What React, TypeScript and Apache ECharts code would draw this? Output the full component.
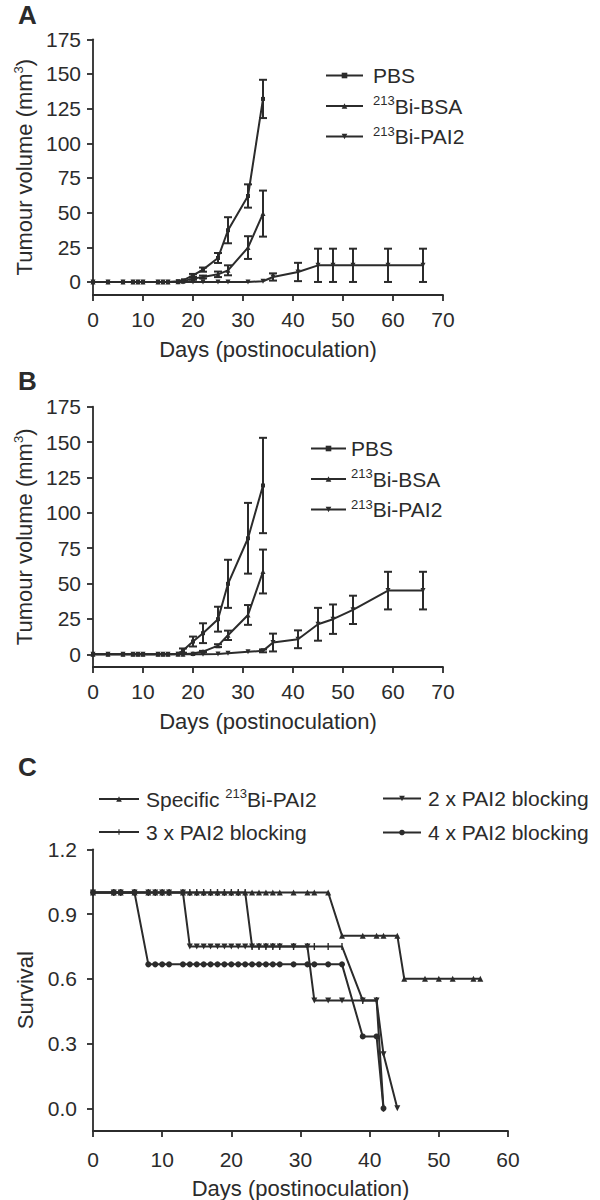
import React, { useEffect, useRef } from 'react';
import * as echarts from 'echarts';

// ---------- Panel A ----------
const daysA = [0, 3, 6, 8, 9, 10, 13, 14, 15, 17, 18, 20, 22, 25, 27, 31, 34];
const pbsA = [0, 0, 0, 0, 0, 0, 0, 0, 0, 0.5, 1.2, 4.8, 8.9, 17.3, 37.3, 62, 132];
const pbsAErr = [0, 0, 0, 0, 0, 0, 0, 0, 0, 0, 0, 1, 1.5, 3.6, 9.4, 8.4, 13.8];
const bsaA = [0, 0, 0, 0, 0, 0, 0, 0, 0, 0.2, 0.5, 2.4, 3.6, 5.5, 8.4, 24.8, 49.3];
const bsaAErr = [0, 0, 0, 0, 0, 0, 0, 0, 0, 0, 0, 0.8, 1, 2, 3.6, 8.2, 16.6];
const daysPai = [0, 3, 6, 8, 9, 10, 13, 14, 15, 17, 18, 20, 22, 25, 27, 31, 34, 36, 41, 45, 48, 52, 59, 66];
const paiA = [0, 0, 0, 0, 0, 0, 0, 0, 0, 0, 0, 0, 0, 0, 0, 0, 0.5, 3.6, 7.2, 12, 12, 12, 12, 12];
const paiAErr = [0, 0, 0, 0, 0, 0, 0, 0, 0, 0, 0, 0, 0, 0, 0, 0, 0, 2.6, 6.6, 12, 12, 12, 12, 12];

// ---------- Panel B ----------
const pbsB = [0, 0, 0, 0, 0, 0, 0, 0, 0, 0.3, 2.6, 9, 14.9, 24.8, 49.8, 82, 119.3];
const pbsBErr = [0, 0, 0, 0, 0, 0, 0, 0, 0, 0, 1.5, 3.5, 7, 8.8, 17, 25, 33.7];
const bsaB = [0, 0, 0, 0, 0, 0, 0, 0, 0, 0, 0, 0.5, 1.9, 6.1, 13.4, 27.8, 58.5];
const bsaBErr = [0, 0, 0, 0, 0, 0, 0, 0, 0, 0, 0, 0, 0.5, 1, 3.3, 7, 15.5];
const paiB = [0, 0, 0, 0, 0, 0, 0, 0, 0, 0, 0, 0, 0, 0.2, 0.7, 1.7, 2.4, 8.3, 10.6, 21.2, 24.8, 31.4, 45, 45];
const paiBErr = [0, 0, 0, 0, 0, 0, 0, 0, 0, 0, 0, 0, 0, 0, 0, 0, 1, 6.3, 6.3, 11.6, 10.4, 10, 13.3, 13.3];

const tumourTicks = [0, 25, 50, 75, 100, 125, 150, 175];

// ---------- Panel C ----------
const specDays = [0, 3, 4, 6, 8, 9, 10, 11, 13, 14, 15, 16, 17, 18, 19, 20, 21, 22, 23, 24, 25, 26, 27, 29, 31, 32, 34, 36, 39, 41, 42, 44, 45, 48, 50, 52, 55, 56];
const specSurv = [1, 1, 1, 1, 1, 1, 1, 1, 1, 1, 1, 1, 1, 1, 1, 1, 1, 1, 1, 1, 1, 1, 1, 1, 1, 1, 1, 0.8, 0.8, 0.8, 0.8, 0.8, 0.6, 0.6, 0.6, 0.6, 0.6, 0.6];
const twoDays = [0, 3, 4, 6, 8, 9, 10, 11, 13, 14, 15, 16, 17, 18, 19, 20, 21, 22, 23, 24, 25, 26, 27, 29, 31, 32, 34, 36, 39, 41, 42, 44];
const twoSurv = [1, 1, 1, 1, 1, 1, 1, 1, 1, 0.75, 0.75, 0.75, 0.75, 0.75, 0.75, 0.75, 0.75, 0.75, 0.75, 0.75, 0.75, 0.75, 0.75, 0.75, 0.75, 0.5, 0.5, 0.5, 0.5, 0.5, 0.25, 0];
const threeDays = [0, 3, 4, 6, 8, 9, 10, 11, 13, 14, 15, 16, 17, 18, 19, 20, 21, 22, 23, 24, 25, 26, 27, 29, 31, 32, 34, 36, 39, 41, 42];
const threeSurv = [1, 1, 1, 1, 1, 1, 1, 1, 1, 1, 1, 1, 1, 1, 1, 1, 1, 1, 0.75, 0.75, 0.75, 0.75, 0.75, 0.75, 0.75, 0.75, 0.75, 0.75, 0.5, 0.5, 0];
const fourDays = [0, 3, 4, 6, 8, 9, 10, 11, 13, 14, 15, 16, 17, 18, 19, 20, 21, 22, 23, 24, 25, 26, 27, 29, 31, 32, 34, 36, 39, 41, 42];
const fourSurv = [1, 1, 1, 1, 0.667, 0.667, 0.667, 0.667, 0.667, 0.667, 0.667, 0.667, 0.667, 0.667, 0.667, 0.667, 0.667, 0.667, 0.667, 0.667, 0.667, 0.667, 0.667, 0.667, 0.667, 0.667, 0.667, 0.667, 0.333, 0.333, 0];
const survivalTicks = [0, 0.3, 0.6, 0.9, 1.2];

const INK = '#2b2b2b';
const FONT = 'Liberation Sans, Arial, Helvetica, sans-serif';
// thin vertical tick inside a square bounding box (keeps its shape in the legend too)
const TICK_SYMBOL = 'path://M4,0h2v10h-2zM0,4.99h0.01v0.02h-0.01zM9.99,4.99h0.01v0.02h-0.01z';

const rich = {
  n: { fontSize: 21, fontFamily: FONT, color: INK },
  s: { fontSize: 13, fontFamily: FONT, color: INK, padding: [0, 0, 11, 0] },
};

const legendLabels: Record<string, string> = {
  'A-PBS': '{n|PBS}',
  'A-BSA': '{s|213}{n|Bi-BSA}',
  'A-PAI2': '{s|213}{n|Bi-PAI2}',
  'B-PBS': '{n|PBS}',
  'B-BSA': '{s|213}{n|Bi-BSA}',
  'B-PAI2': '{s|213}{n|Bi-PAI2}',
  'C-spec': '{n|Specific }{s|213}{n|Bi-PAI2}',
  'C-2x': '{n|2 x PAI2 blocking}',
  'C-3x': '{n|3 x PAI2 blocking}',
  'C-4x': '{n|4 x PAI2 blocking}',
};

function pairs(xs: number[], ys: number[]) {
  return xs.map((x, i) => [x, ys[i]]);
}

function lineSeries(name: string, idx: number, xs: number[], ys: number[], symbol: string, size: any, rotate = 0) {
  return {
    name,
    type: 'line',
    xAxisIndex: idx,
    yAxisIndex: idx,
    data: pairs(xs, ys),
    symbol,
    symbolSize: size,
    symbolRotate: rotate,
    showSymbol: true,
    lineStyle: { color: INK, width: 2 },
    itemStyle: { color: INK, borderWidth: 0 },
    color: INK,
    z: 4,
  };
}

function errSeries(idx: number, xs: number[], ys: number[], errs: number[]) {
  const data: number[][] = [];
  xs.forEach((x, i) => {
    if (errs[i] > 0) data.push([x, ys[i] - errs[i], ys[i] + errs[i]]);
  });
  return {
    type: 'custom',
    xAxisIndex: idx,
    yAxisIndex: idx,
    silent: true,
    encode: { x: 0, y: [1, 2] },
    data,
    z: 3,
    renderItem: (params: any, api: any) => {
      const x = api.value(0);
      const lo = api.coord([x, api.value(1)]);
      const hi = api.coord([x, api.value(2)]);
      const w = 4;
      const style = { stroke: INK, lineWidth: 2 };
      return {
        type: 'group',
        children: [
          { type: 'line', shape: { x1: lo[0], y1: lo[1], x2: hi[0], y2: hi[1] }, style },
          { type: 'line', shape: { x1: lo[0] - w, y1: lo[1], x2: lo[0] + w, y2: lo[1] }, style },
          { type: 'line', shape: { x1: hi[0] - w, y1: hi[1], x2: hi[0] + w, y2: hi[1] }, style },
        ],
      };
    },
  };
}

const axisLineStyle = { show: true, onZero: false, lineStyle: { color: INK, width: 1.8 } };
const tickStyle = { show: true, length: 6, lineStyle: { color: INK, width: 1.8 } };

function xAxisDef(idx: number, max: number, labelMargin: number, nameGap: number) {
  return {
    type: 'value',
    gridIndex: idx,
    min: 0,
    max,
    interval: 10,
    axisLine: axisLineStyle,
    axisTick: tickStyle,
    splitLine: { show: false },
    axisLabel: { color: INK, fontSize: 21, fontFamily: FONT, margin: labelMargin },
    name: 'Days (postinoculation)',
    nameLocation: 'middle',
    nameGap,
    nameTextStyle: { color: INK, fontSize: 22, fontFamily: FONT },
  };
}

function yAxisTumour(idx: number, min: number) {
  return {
    type: 'value',
    gridIndex: idx,
    min,
    max: 175,
    axisLine: axisLineStyle,
    axisTick: { ...tickStyle, customValues: tumourTicks },
    splitLine: { show: false },
    axisLabel: { color: INK, fontSize: 21, fontFamily: FONT, margin: 12, customValues: tumourTicks },
    name: 'Tumour volume (mm{s|3})',
    nameLocation: 'middle',
    nameRotate: 90,
    nameGap: 56,
    nameTextStyle: { color: INK, fontSize: 22, fontFamily: FONT, rich },
  };
}

function legendDef(left: number, top: number, names: string[], itemWidth: number, itemGap: number, textPad: number) {
  return {
    orient: 'vertical',
    left,
    top,
    data: names,
    itemWidth,
    itemHeight: 7,
    itemGap,
    selectedMode: false,
    formatter: (name: string) => legendLabels[name],
    textStyle: { rich, padding: [0, 0, 0, textPad], color: INK, fontSize: 21, fontFamily: FONT },
  };
}

export default function App() {
  const ref = useRef<HTMLDivElement>(null);
  useEffect(() => {
    if (!ref.current) return;
    const chart = echarts.init(ref.current, null, { renderer: 'svg' });
    const option: any = {
      animation: false,
      backgroundColor: '#ffffff',
      textStyle: { fontFamily: FONT },
      grid: [
        { left: 93, top: 39.3, width: 350, height: 255.7 },
        { left: 93, top: 406.7, width: 350, height: 260.3 },
        { left: 93, top: 849.3, width: 415, height: 283.7 },
      ],
      xAxis: [xAxisDef(0, 70, 14, 43), xAxisDef(1, 70, 14, 43), xAxisDef(2, 60, 18, 46)],
      yAxis: [
        yAxisTumour(0, -9.4),
        yAxisTumour(1, -9),
        {
          type: 'value',
          gridIndex: 2,
          min: -0.105,
          max: 1.2,
          axisLine: axisLineStyle,
          axisTick: { ...tickStyle, customValues: survivalTicks },
          splitLine: { show: false },
          axisLabel: {
            color: INK,
            fontSize: 21,
            fontFamily: FONT,
            margin: 16,
            customValues: survivalTicks,
            formatter: (v: number) => v.toFixed(1),
          },
          name: 'Survival',
          nameLocation: 'middle',
          nameRotate: 90,
          nameGap: 56,
          nameTextStyle: { color: INK, fontSize: 22, fontFamily: FONT },
        },
      ],
      legend: [
        legendDef(320, 60, ['A-PBS', 'A-BSA', 'A-PAI2'], 37, 8, 5),
        legendDef(305, 433, ['B-PBS', 'B-BSA', 'B-PAI2'], 35, 8, 0),
        legendDef(93, 782, ['C-spec', 'C-3x'], 40, 12, 2),
        legendDef(377, 783, ['C-2x', 'C-4x'], 38, 13, 2),
      ],
      graphic: [
        { type: 'text', left: 18, top: 2, style: { text: 'A', fontSize: 26, fontWeight: 'bold', fontFamily: FONT, fill: INK } },
        { type: 'text', left: 18, top: 368, style: { text: 'B', fontSize: 26, fontWeight: 'bold', fontFamily: FONT, fill: INK } },
        { type: 'text', left: 18, top: 754, style: { text: 'C', fontSize: 26, fontWeight: 'bold', fontFamily: FONT, fill: INK } },
      ],
      series: [
        errSeries(0, daysA, pbsA, pbsAErr),
        errSeries(0, daysA, bsaA, bsaAErr),
        errSeries(0, daysPai, paiA, paiAErr),
        lineSeries('A-PBS', 0, daysA, pbsA, 'rect', 4),
        lineSeries('A-BSA', 0, daysA, bsaA, 'triangle', 5),
        lineSeries('A-PAI2', 0, daysPai, paiA, 'triangle', 5, 180),
        errSeries(1, daysA, pbsB, pbsBErr),
        errSeries(1, daysA, bsaB, bsaBErr),
        errSeries(1, daysPai, paiB, paiBErr),
        lineSeries('B-PBS', 1, daysA, pbsB, 'rect', 4),
        lineSeries('B-BSA', 1, daysA, bsaB, 'triangle', 5),
        lineSeries('B-PAI2', 1, daysPai, paiB, 'triangle', 5, 180),
        lineSeries('C-spec', 2, specDays, specSurv, 'triangle', 6),
        lineSeries('C-2x', 2, twoDays, twoSurv, 'triangle', 6, 180),
        lineSeries('C-3x', 2, threeDays, threeSurv, TICK_SYMBOL, 7),
        lineSeries('C-4x', 2, fourDays, fourSurv, 'circle', 6),
      ],
    };
    chart.setOption(option);
    return () => chart.dispose();
  }, []);
  return (
    <div
      ref={ref}
      style={{ position: 'absolute', left: 0, top: 0, width: 600, height: 1200, background: '#fff' }}
    />
  );
}
